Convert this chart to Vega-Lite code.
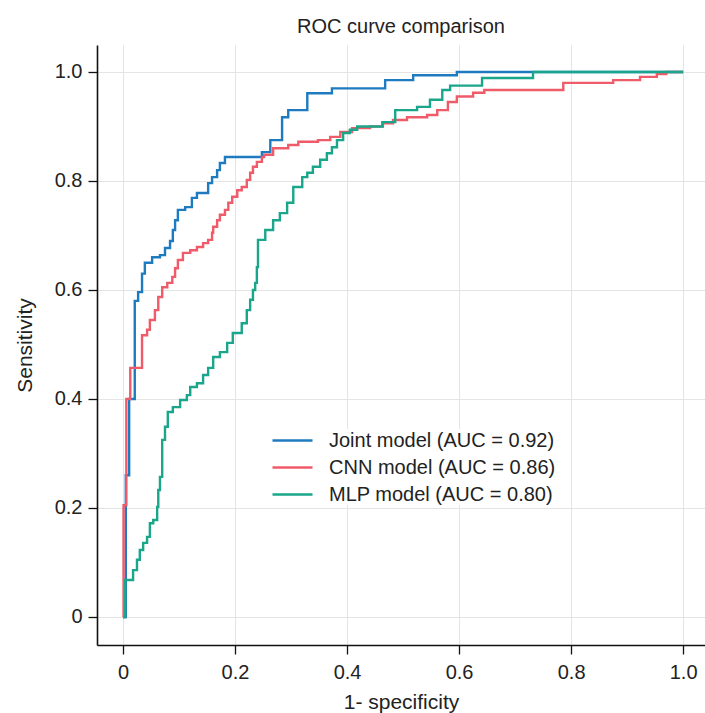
{
  "$schema": "https://vega.github.io/schema/vega-lite/v6.json",
  "autosize": "none",
  "width": 608,
  "height": 600,
  "padding": {"left": 97, "top": 45, "right": 0, "bottom": 68},
  "background": "white",
  "title": {"text": "ROC curve comparison", "fontSize": 20, "fontWeight": "normal", "font": "Liberation Sans", "color": "#222", "offset": 8, "anchor": "middle"},
  "config": {
    "view": {"stroke": null},
    "axis": {"domainColor": "#111", "domainWidth": 1.6, "tickColor": "#111", "tickWidth": 1.3, "tickSize": 9, "labelFont": "Liberation Sans", "labelFontSize": 20, "labelColor": "#222", "titleFont": "Liberation Sans", "titleFontSize": 21, "titleFontWeight": "normal", "titleColor": "#222", "gridColor": "#e4e4e4", "gridWidth": 1}
  },
  "datasets": {
    "roc": [
      {"model": "Joint model (AUC = 0.92)", "fpr": 0, "tpr": 0},
      {"model": "Joint model (AUC = 0.92)", "fpr": 0.005, "tpr": 0.26},
      {"model": "Joint model (AUC = 0.92)", "fpr": 0.011, "tpr": 0.40},
      {"model": "Joint model (AUC = 0.92)", "fpr": 0.021, "tpr": 0.58},
      {"model": "Joint model (AUC = 0.92)", "fpr": 0.027, "tpr": 0.596},
      {"model": "Joint model (AUC = 0.92)", "fpr": 0.034, "tpr": 0.63},
      {"model": "Joint model (AUC = 0.92)", "fpr": 0.039, "tpr": 0.65},
      {"model": "Joint model (AUC = 0.92)", "fpr": 0.052, "tpr": 0.66},
      {"model": "Joint model (AUC = 0.92)", "fpr": 0.066, "tpr": 0.664},
      {"model": "Joint model (AUC = 0.92)", "fpr": 0.075, "tpr": 0.677},
      {"model": "Joint model (AUC = 0.92)", "fpr": 0.084, "tpr": 0.69},
      {"model": "Joint model (AUC = 0.92)", "fpr": 0.089, "tpr": 0.71},
      {"model": "Joint model (AUC = 0.92)", "fpr": 0.093, "tpr": 0.728},
      {"model": "Joint model (AUC = 0.92)", "fpr": 0.098, "tpr": 0.747},
      {"model": "Joint model (AUC = 0.92)", "fpr": 0.111, "tpr": 0.752},
      {"model": "Joint model (AUC = 0.92)", "fpr": 0.123, "tpr": 0.769},
      {"model": "Joint model (AUC = 0.92)", "fpr": 0.132, "tpr": 0.778},
      {"model": "Joint model (AUC = 0.92)", "fpr": 0.152, "tpr": 0.796},
      {"model": "Joint model (AUC = 0.92)", "fpr": 0.159, "tpr": 0.807},
      {"model": "Joint model (AUC = 0.92)", "fpr": 0.168, "tpr": 0.82},
      {"model": "Joint model (AUC = 0.92)", "fpr": 0.173, "tpr": 0.833},
      {"model": "Joint model (AUC = 0.92)", "fpr": 0.182, "tpr": 0.844},
      {"model": "Joint model (AUC = 0.92)", "fpr": 0.248, "tpr": 0.853},
      {"model": "Joint model (AUC = 0.92)", "fpr": 0.263, "tpr": 0.875},
      {"model": "Joint model (AUC = 0.92)", "fpr": 0.284, "tpr": 0.917},
      {"model": "Joint model (AUC = 0.92)", "fpr": 0.295, "tpr": 0.93},
      {"model": "Joint model (AUC = 0.92)", "fpr": 0.329, "tpr": 0.961},
      {"model": "Joint model (AUC = 0.92)", "fpr": 0.373, "tpr": 0.97},
      {"model": "Joint model (AUC = 0.92)", "fpr": 0.468, "tpr": 0.985},
      {"model": "Joint model (AUC = 0.92)", "fpr": 0.518, "tpr": 0.994},
      {"model": "Joint model (AUC = 0.92)", "fpr": 0.596, "tpr": 1.0},
      {"model": "Joint model (AUC = 0.92)", "fpr": 1.0, "tpr": 1.0},

      {"model": "CNN model (AUC = 0.86)", "fpr": 0, "tpr": 0},
      {"model": "CNN model (AUC = 0.86)", "fpr": 0.001, "tpr": 0.205},
      {"model": "CNN model (AUC = 0.86)", "fpr": 0.006, "tpr": 0.40},
      {"model": "CNN model (AUC = 0.86)", "fpr": 0.013, "tpr": 0.457},
      {"model": "CNN model (AUC = 0.86)", "fpr": 0.034, "tpr": 0.517},
      {"model": "CNN model (AUC = 0.86)", "fpr": 0.043, "tpr": 0.527},
      {"model": "CNN model (AUC = 0.86)", "fpr": 0.048, "tpr": 0.545},
      {"model": "CNN model (AUC = 0.86)", "fpr": 0.057, "tpr": 0.563},
      {"model": "CNN model (AUC = 0.86)", "fpr": 0.063, "tpr": 0.587},
      {"model": "CNN model (AUC = 0.86)", "fpr": 0.070, "tpr": 0.605},
      {"model": "CNN model (AUC = 0.86)", "fpr": 0.079, "tpr": 0.613},
      {"model": "CNN model (AUC = 0.86)", "fpr": 0.088, "tpr": 0.624},
      {"model": "CNN model (AUC = 0.86)", "fpr": 0.093, "tpr": 0.64},
      {"model": "CNN model (AUC = 0.86)", "fpr": 0.098, "tpr": 0.655},
      {"model": "CNN model (AUC = 0.86)", "fpr": 0.107, "tpr": 0.668},
      {"model": "CNN model (AUC = 0.86)", "fpr": 0.120, "tpr": 0.673},
      {"model": "CNN model (AUC = 0.86)", "fpr": 0.132, "tpr": 0.679},
      {"model": "CNN model (AUC = 0.86)", "fpr": 0.143, "tpr": 0.686},
      {"model": "CNN model (AUC = 0.86)", "fpr": 0.152, "tpr": 0.692},
      {"model": "CNN model (AUC = 0.86)", "fpr": 0.159, "tpr": 0.705},
      {"model": "CNN model (AUC = 0.86)", "fpr": 0.161, "tpr": 0.716},
      {"model": "CNN model (AUC = 0.86)", "fpr": 0.168, "tpr": 0.728},
      {"model": "CNN model (AUC = 0.86)", "fpr": 0.173, "tpr": 0.738},
      {"model": "CNN model (AUC = 0.86)", "fpr": 0.182, "tpr": 0.747},
      {"model": "CNN model (AUC = 0.86)", "fpr": 0.188, "tpr": 0.76},
      {"model": "CNN model (AUC = 0.86)", "fpr": 0.195, "tpr": 0.771},
      {"model": "CNN model (AUC = 0.86)", "fpr": 0.204, "tpr": 0.783},
      {"model": "CNN model (AUC = 0.86)", "fpr": 0.212, "tpr": 0.789},
      {"model": "CNN model (AUC = 0.86)", "fpr": 0.221, "tpr": 0.802},
      {"model": "CNN model (AUC = 0.86)", "fpr": 0.227, "tpr": 0.815},
      {"model": "CNN model (AUC = 0.86)", "fpr": 0.232, "tpr": 0.826},
      {"model": "CNN model (AUC = 0.86)", "fpr": 0.239, "tpr": 0.835},
      {"model": "CNN model (AUC = 0.86)", "fpr": 0.248, "tpr": 0.844},
      {"model": "CNN model (AUC = 0.86)", "fpr": 0.252, "tpr": 0.848},
      {"model": "CNN model (AUC = 0.86)", "fpr": 0.268, "tpr": 0.86},
      {"model": "CNN model (AUC = 0.86)", "fpr": 0.295, "tpr": 0.866},
      {"model": "CNN model (AUC = 0.86)", "fpr": 0.313, "tpr": 0.872},
      {"model": "CNN model (AUC = 0.86)", "fpr": 0.348, "tpr": 0.875},
      {"model": "CNN model (AUC = 0.86)", "fpr": 0.370, "tpr": 0.881},
      {"model": "CNN model (AUC = 0.86)", "fpr": 0.388, "tpr": 0.89},
      {"model": "CNN model (AUC = 0.86)", "fpr": 0.409, "tpr": 0.897},
      {"model": "CNN model (AUC = 0.86)", "fpr": 0.441, "tpr": 0.90},
      {"model": "CNN model (AUC = 0.86)", "fpr": 0.464, "tpr": 0.906},
      {"model": "CNN model (AUC = 0.86)", "fpr": 0.482, "tpr": 0.912},
      {"model": "CNN model (AUC = 0.86)", "fpr": 0.507, "tpr": 0.917},
      {"model": "CNN model (AUC = 0.86)", "fpr": 0.543, "tpr": 0.921},
      {"model": "CNN model (AUC = 0.86)", "fpr": 0.561, "tpr": 0.93},
      {"model": "CNN model (AUC = 0.86)", "fpr": 0.580, "tpr": 0.945},
      {"model": "CNN model (AUC = 0.86)", "fpr": 0.596, "tpr": 0.955},
      {"model": "CNN model (AUC = 0.86)", "fpr": 0.625, "tpr": 0.962},
      {"model": "CNN model (AUC = 0.86)", "fpr": 0.645, "tpr": 0.967},
      {"model": "CNN model (AUC = 0.86)", "fpr": 0.786, "tpr": 0.98},
      {"model": "CNN model (AUC = 0.86)", "fpr": 0.875, "tpr": 0.985},
      {"model": "CNN model (AUC = 0.86)", "fpr": 0.923, "tpr": 0.991},
      {"model": "CNN model (AUC = 0.86)", "fpr": 0.953, "tpr": 0.996},
      {"model": "CNN model (AUC = 0.86)", "fpr": 0.97, "tpr": 1.0},
      {"model": "CNN model (AUC = 0.86)", "fpr": 1.0, "tpr": 1.0},

      {"model": "MLP model (AUC = 0.80)", "fpr": 0, "tpr": 0},
      {"model": "MLP model (AUC = 0.80)", "fpr": 0.004, "tpr": 0.068},
      {"model": "MLP model (AUC = 0.80)", "fpr": 0.018, "tpr": 0.086},
      {"model": "MLP model (AUC = 0.80)", "fpr": 0.025, "tpr": 0.105},
      {"model": "MLP model (AUC = 0.80)", "fpr": 0.030, "tpr": 0.123},
      {"model": "MLP model (AUC = 0.80)", "fpr": 0.036, "tpr": 0.136},
      {"model": "MLP model (AUC = 0.80)", "fpr": 0.043, "tpr": 0.147},
      {"model": "MLP model (AUC = 0.80)", "fpr": 0.048, "tpr": 0.172},
      {"model": "MLP model (AUC = 0.80)", "fpr": 0.054, "tpr": 0.178},
      {"model": "MLP model (AUC = 0.80)", "fpr": 0.061, "tpr": 0.202},
      {"model": "MLP model (AUC = 0.80)", "fpr": 0.063, "tpr": 0.233},
      {"model": "MLP model (AUC = 0.80)", "fpr": 0.066, "tpr": 0.257},
      {"model": "MLP model (AUC = 0.80)", "fpr": 0.070, "tpr": 0.325},
      {"model": "MLP model (AUC = 0.80)", "fpr": 0.075, "tpr": 0.349},
      {"model": "MLP model (AUC = 0.80)", "fpr": 0.080, "tpr": 0.376},
      {"model": "MLP model (AUC = 0.80)", "fpr": 0.089, "tpr": 0.385},
      {"model": "MLP model (AUC = 0.80)", "fpr": 0.102, "tpr": 0.398},
      {"model": "MLP model (AUC = 0.80)", "fpr": 0.114, "tpr": 0.407},
      {"model": "MLP model (AUC = 0.80)", "fpr": 0.120, "tpr": 0.422},
      {"model": "MLP model (AUC = 0.80)", "fpr": 0.132, "tpr": 0.429},
      {"model": "MLP model (AUC = 0.80)", "fpr": 0.143, "tpr": 0.444},
      {"model": "MLP model (AUC = 0.80)", "fpr": 0.152, "tpr": 0.457},
      {"model": "MLP model (AUC = 0.80)", "fpr": 0.161, "tpr": 0.477},
      {"model": "MLP model (AUC = 0.80)", "fpr": 0.173, "tpr": 0.486},
      {"model": "MLP model (AUC = 0.80)", "fpr": 0.186, "tpr": 0.503},
      {"model": "MLP model (AUC = 0.80)", "fpr": 0.196, "tpr": 0.521},
      {"model": "MLP model (AUC = 0.80)", "fpr": 0.212, "tpr": 0.539},
      {"model": "MLP model (AUC = 0.80)", "fpr": 0.221, "tpr": 0.563},
      {"model": "MLP model (AUC = 0.80)", "fpr": 0.227, "tpr": 0.582},
      {"model": "MLP model (AUC = 0.80)", "fpr": 0.232, "tpr": 0.60},
      {"model": "MLP model (AUC = 0.80)", "fpr": 0.236, "tpr": 0.613},
      {"model": "MLP model (AUC = 0.80)", "fpr": 0.239, "tpr": 0.642},
      {"model": "MLP model (AUC = 0.80)", "fpr": 0.241, "tpr": 0.692},
      {"model": "MLP model (AUC = 0.80)", "fpr": 0.254, "tpr": 0.71},
      {"model": "MLP model (AUC = 0.80)", "fpr": 0.268, "tpr": 0.728},
      {"model": "MLP model (AUC = 0.80)", "fpr": 0.280, "tpr": 0.741},
      {"model": "MLP model (AUC = 0.80)", "fpr": 0.293, "tpr": 0.76},
      {"model": "MLP model (AUC = 0.80)", "fpr": 0.304, "tpr": 0.789},
      {"model": "MLP model (AUC = 0.80)", "fpr": 0.320, "tpr": 0.807},
      {"model": "MLP model (AUC = 0.80)", "fpr": 0.329, "tpr": 0.815},
      {"model": "MLP model (AUC = 0.80)", "fpr": 0.339, "tpr": 0.826},
      {"model": "MLP model (AUC = 0.80)", "fpr": 0.352, "tpr": 0.839},
      {"model": "MLP model (AUC = 0.80)", "fpr": 0.364, "tpr": 0.851},
      {"model": "MLP model (AUC = 0.80)", "fpr": 0.373, "tpr": 0.862},
      {"model": "MLP model (AUC = 0.80)", "fpr": 0.382, "tpr": 0.875},
      {"model": "MLP model (AUC = 0.80)", "fpr": 0.393, "tpr": 0.888},
      {"model": "MLP model (AUC = 0.80)", "fpr": 0.405, "tpr": 0.894},
      {"model": "MLP model (AUC = 0.80)", "fpr": 0.418, "tpr": 0.90},
      {"model": "MLP model (AUC = 0.80)", "fpr": 0.463, "tpr": 0.908},
      {"model": "MLP model (AUC = 0.80)", "fpr": 0.486, "tpr": 0.93},
      {"model": "MLP model (AUC = 0.80)", "fpr": 0.525, "tpr": 0.936},
      {"model": "MLP model (AUC = 0.80)", "fpr": 0.548, "tpr": 0.949},
      {"model": "MLP model (AUC = 0.80)", "fpr": 0.570, "tpr": 0.967},
      {"model": "MLP model (AUC = 0.80)", "fpr": 0.584, "tpr": 0.975},
      {"model": "MLP model (AUC = 0.80)", "fpr": 0.641, "tpr": 0.989},
      {"model": "MLP model (AUC = 0.80)", "fpr": 0.732, "tpr": 1.0},
      {"model": "MLP model (AUC = 0.80)", "fpr": 1.0, "tpr": 1.0}
    ]
  },
  "data": {"name": "roc"},
  "mark": {"type": "line", "interpolate": "step-after", "strokeWidth": 2.4, "clip": true},
  "encoding": {
    "x": {
      "field": "fpr", "type": "quantitative",
      "scale": {"domain": [-0.0464, 1.039], "nice": false, "zero": false},
      "axis": {"values": [0, 0.2, 0.4, 0.6, 0.8, 1.0], "labelExpr": "datum.value == 0 ? '0' : format(datum.value, '.1f')", "title": "1- specificity", "labelPadding": 8, "titleY": 57, "titleBaseline": "middle"}
    },
    "y": {
      "field": "tpr", "type": "quantitative",
      "scale": {"domain": [-0.0514, 1.0495], "nice": false, "zero": false},
      "axis": {"values": [0, 0.2, 0.4, 0.6, 0.8, 1.0], "labelExpr": "datum.value == 0 ? '0' : format(datum.value, '.1f')", "title": "Sensitivity", "labelPadding": 6, "titleX": -72, "titleBaseline": "middle"}
    },
    "color": {
      "field": "model", "type": "nominal",
      "scale": {"domain": ["Joint model (AUC = 0.92)", "CNN model (AUC = 0.86)", "MLP model (AUC = 0.80)"], "range": ["#1f7bbf", "#ef5b69", "#1aa68a"]},
      "legend": {"title": null, "orient": "none", "legendX": 184, "legendY": 384, "symbolType": "M-2,0H2", "symbolSize": 400, "symbolStrokeWidth": 2.4, "labelFont": "Liberation Sans", "labelFontSize": 20, "labelColor": "#222", "labelLimit": 400, "labelOffset": 25, "rowPadding": 5, "fillColor": "white"}
    },
    "order": {"field": "fpr", "type": "quantitative"}
  }
}
